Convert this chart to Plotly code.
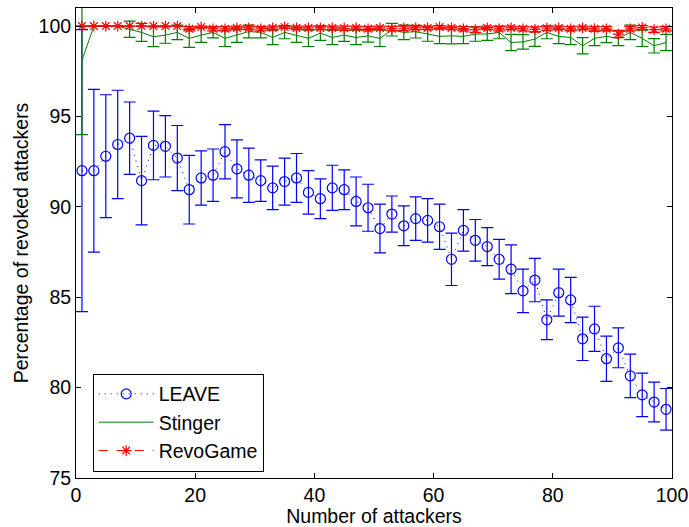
import plotly.graph_objects as go

# Number of attackers (odd values 1..99)
attackers = list(range(1, 100, 2))

# LEAVE: mean revocation percentage and half-width of error bar
leave_mean = [92.0, 92.0, 92.8, 93.45, 93.8, 91.45, 93.4, 93.35, 92.7, 90.95,
              91.6, 91.75, 93.05, 92.1, 91.75, 91.45, 91.05, 91.4, 91.6, 90.8,
              90.45, 91.05, 90.95, 90.3, 89.95, 88.8, 89.6, 88.95, 89.35, 89.25,
              88.9, 87.1, 88.7, 88.15, 87.8, 87.1, 86.55, 85.35, 85.95, 83.75,
              85.25, 84.85, 82.7, 83.25, 81.6, 82.2, 80.65, 79.6, 79.2, 78.8]
leave_err = [7.8, 4.5, 3.4, 3.0, 2.0, 2.45, 1.9, 1.7, 1.8, 1.9,
             1.5, 1.45, 1.5, 1.6, 1.5, 1.15, 1.2, 1.3, 1.35, 1.2,
             1.1, 1.25, 1.1, 1.35, 1.3, 1.35, 1.0, 1.1, 1.2, 1.2,
             1.25, 1.45, 1.15, 1.15, 1.05, 1.1, 1.35, 1.2, 1.2, 1.1,
             1.3, 1.25, 1.2, 1.25, 1.25, 1.1, 1.2, 1.2, 1.1, 1.15]

# Stinger
stinger_mean = [98.1, 100.0, 100.0, 100.0, 99.82, 99.65, 99.41, 99.5, 99.65, 99.32,
                99.5, 99.65, 99.32, 99.5, 99.7, 99.65, 99.37, 99.65, 99.5, 99.32,
                99.61, 99.37, 99.5, 99.37, 99.46, 99.32, 99.8, 99.65, 99.69, 99.56,
                99.43, 99.46, 99.43, 99.56, 99.56, 99.65, 99.09, 99.13, 99.28, 99.65,
                99.43, 99.37, 98.91, 99.32, 99.43, 99.32, 99.65, 99.32, 98.91, 99.09]
stinger_err = [4.1, 0.0, 0.0, 0.0, 0.45, 0.5, 0.55, 0.45, 0.4, 0.5,
               0.4, 0.3, 0.45, 0.4, 0.35, 0.3, 0.4, 0.35, 0.4, 0.45,
               0.4, 0.4, 0.35, 0.4, 0.35, 0.45, 0.35, 0.4, 0.35, 0.4,
               0.4, 0.45, 0.4, 0.4, 0.35, 0.35, 0.45, 0.4, 0.4, 0.35,
               0.4, 0.4, 0.45, 0.4, 0.35, 0.4, 0.4, 0.45, 0.4, 0.45]

# RevoGame
revo_mean = [100.0, 100.0, 100.0, 100.0, 100.0, 100.0, 100.0, 100.0, 100.0, 99.85,
             99.95, 99.85, 99.85, 99.9, 99.9, 99.85, 99.9, 99.95, 99.9, 99.9,
             99.9, 99.9, 99.88, 99.9, 99.85, 99.9, 99.85, 99.88, 99.9, 99.9,
             99.95, 99.9, 99.85, 99.8, 99.9, 99.85, 99.9, 99.85, 99.82, 99.88,
             99.9, 99.85, 99.9, 99.85, 99.85, 99.56, 99.85, 99.92, 99.8, 99.85]
revo_err = [0.0, 0.0, 0.0, 0.0, 0.0, 0.0, 0.0, 0.0, 0.0, 0.12,
            0.05, 0.12, 0.12, 0.1, 0.1, 0.12, 0.1, 0.08, 0.1, 0.1,
            0.1, 0.1, 0.12, 0.1, 0.12, 0.1, 0.12, 0.12, 0.1, 0.1,
            0.08, 0.1, 0.12, 0.15, 0.1, 0.12, 0.1, 0.12, 0.14, 0.12,
            0.1, 0.12, 0.1, 0.12, 0.12, 0.2, 0.12, 0.1, 0.15, 0.12]

x_ticks = [0, 20, 40, 60, 80, 100]
y_ticks = [75, 80, 85, 90, 95, 100]

FONT = "Liberation Sans"
FSIZE = 19.5
BLUE, GREEN, RED = "#0000ff", "#008000", "#ff0000"

fig = go.Figure()

fig.add_trace(go.Scatter(
    x=attackers, y=leave_mean, name="LEAVE", mode="lines+markers",
    line=dict(color=BLUE, width=1, dash="1px,5px"),
    marker=dict(symbol="circle-open", size=10, color=BLUE, line=dict(width=1.2, color=BLUE)),
    error_y=dict(type="data", array=leave_err, color=BLUE, thickness=1.2, width=6),
))

fig.add_trace(go.Scatter(
    x=attackers, y=stinger_mean, name="Stinger", mode="lines",
    line=dict(color=GREEN, width=1),
    error_y=dict(type="data", array=stinger_err, color=GREEN, thickness=1.2, width=6),
))

fig.add_trace(go.Scatter(
    x=attackers, y=revo_mean, name="RevoGame", mode="lines+markers",
    line=dict(color=RED, width=1, dash="dash"),
    marker=dict(symbol="asterisk-open", size=9, color=RED, line=dict(width=1.2, color=RED)),
    error_y=dict(type="data", array=revo_err, color=RED, thickness=1.2, width=6),
))

axis_common = dict(
    showgrid=False, zeroline=False, showline=True, linecolor="black", linewidth=1,
    mirror="ticks", ticks="inside", ticklen=5, tickcolor="black", tickwidth=1,
    tickfont=dict(family=FONT, size=FSIZE, color="black"), automargin=False,
)

fig.update_xaxes(
    range=[0, 100], tickvals=x_ticks, ticktext=[str(v) for v in x_ticks],
    title=dict(text="Number of attackers", font=dict(family=FONT, size=FSIZE, color="black"), standoff=4),
    **axis_common,
)
fig.update_yaxes(
    range=[75, 101], tickvals=y_ticks, ticktext=[str(v) for v in y_ticks],
    title=dict(text="Percentage of revoked attackers", font=dict(family=FONT, size=FSIZE, color="black"), standoff=4),
    **axis_common,
)

fig.update_layout(
    width=689, height=527,
    margin=dict(l=76, r=17, t=8, b=49),
    paper_bgcolor="white", plot_bgcolor="white",
    showlegend=True,
    legend=dict(
        x=0.028, y=0.222, xanchor="left", yanchor="top",
        bgcolor="white", bordercolor="black", borderwidth=1,
        font=dict(family=FONT, size=FSIZE, color="black"),
        tracegroupgap=0, itemwidth=55,
    ),
)

fig.write_html("out.html")
